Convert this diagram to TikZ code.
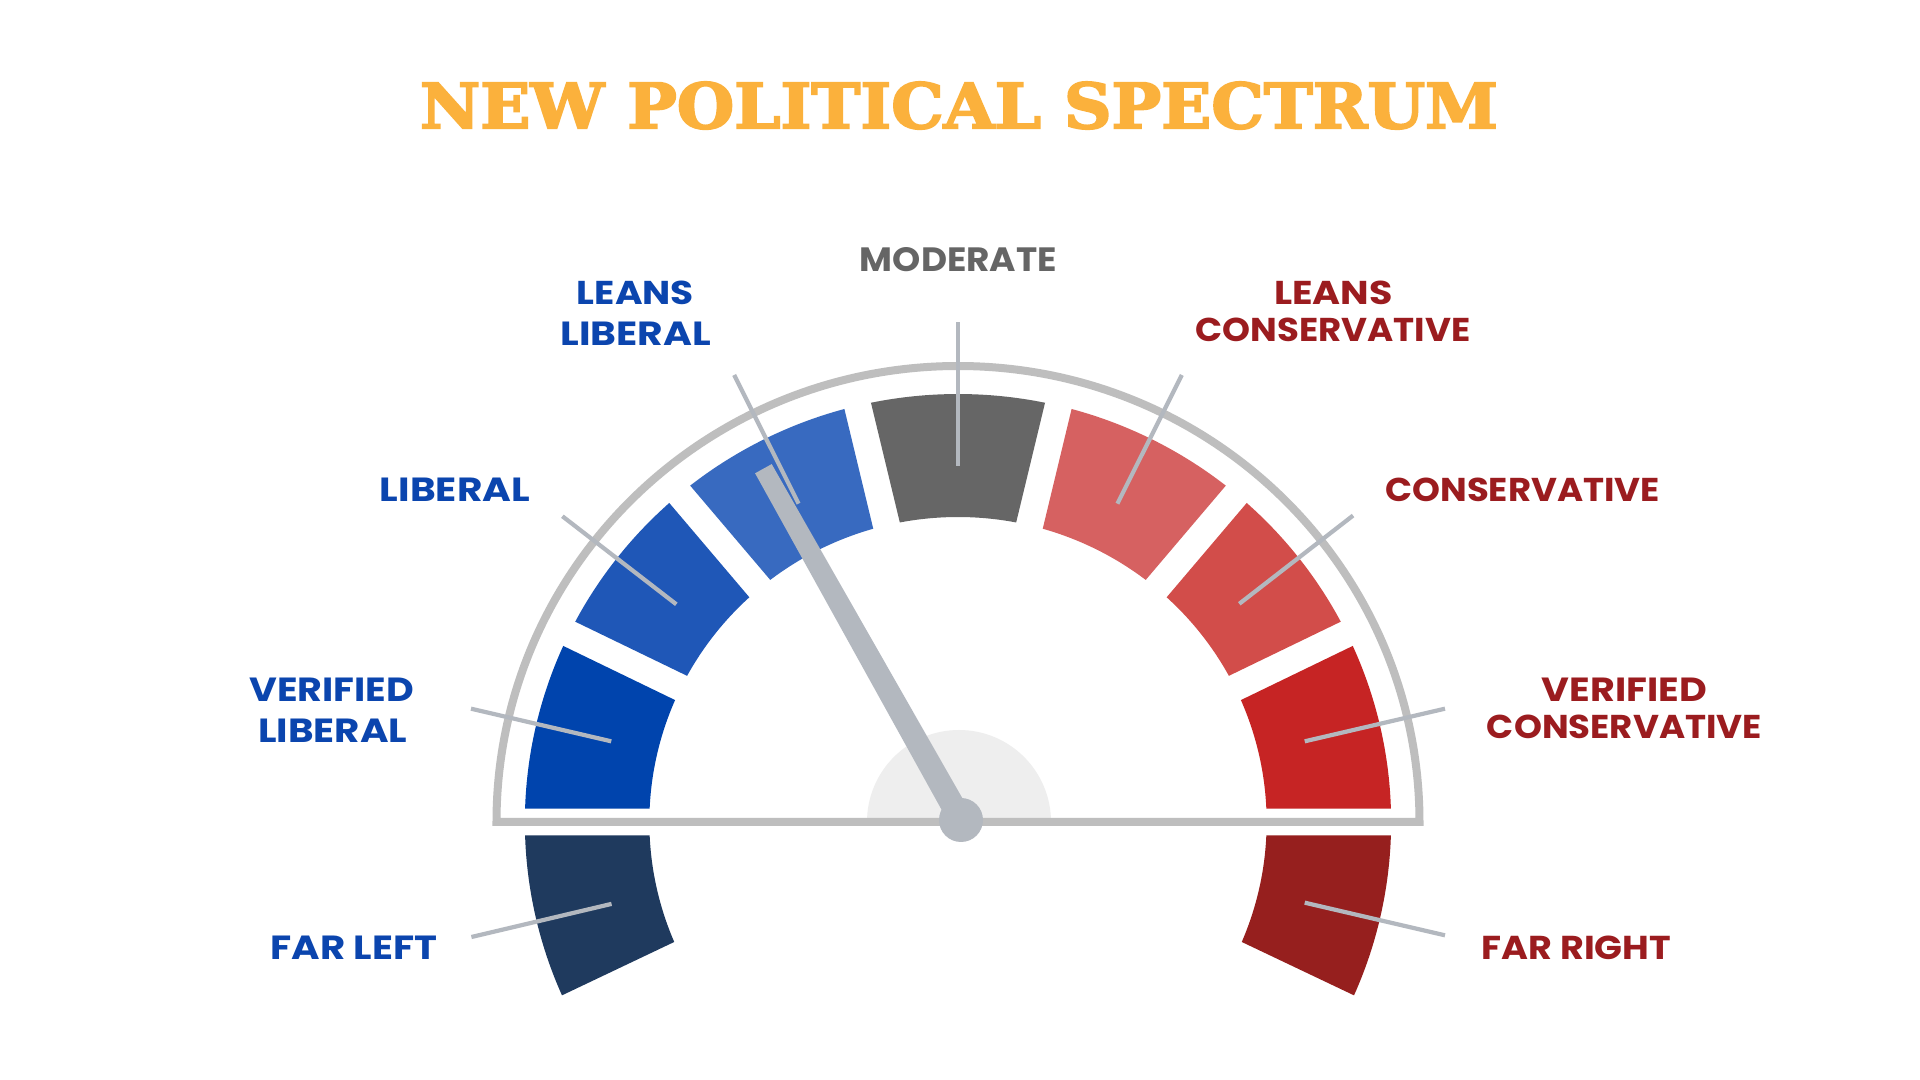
\documentclass[tikz,border=0pt]{standalone}
\usepackage{fontspec}
\usepackage{graphicx}
\newfontfamily\lblfont{Poppins}
\newfontfamily\titlefont{DejaVu Serif}[BoldFeatures={FakeBold=3}]
\definecolor{farleft}{HTML}{1F3A5E}
\definecolor{vlib}{HTML}{0044AD}
\definecolor{lib}{HTML}{1F57B7}
\definecolor{llib}{HTML}{386AC0}
\definecolor{modc}{HTML}{666666}
\definecolor{lcon}{HTML}{D66161}
\definecolor{con}{HTML}{D24D4A}
\definecolor{vcon}{HTML}{C62424}
\definecolor{farright}{HTML}{961F1E}
\definecolor{bluetxt}{HTML}{0B45AE}
\definecolor{redtxt}{HTML}{9B1C1F}
\definecolor{graytxt}{HTML}{656565}
\definecolor{titlecol}{HTML}{FBB13C}
\definecolor{needlecol}{HTML}{B3B8BF}
\definecolor{outlinecol}{HTML}{BEBEBE}
\definecolor{disccol}{HTML}{EEEEEE}
\newcommand\seg[3]{\fill[#1] ({#2+1.807}:428) arc[start angle={#2+1.807}, end angle={#3-1.807}, radius=428] -- ({#3-2.537}:305) arc[start angle={#3-2.537}, end angle={#2+2.537}, radius=305] -- cycle;}
\newcommand\lb[2]{\resizebox{#1pt}{11.75pt}{\lblfont\bfseries #2}}
\tikzset{
  lbl/.style={anchor=base, inner sep=0pt, outer sep=0pt},
  tickline/.style={draw=needlecol, line width=2.1pt},
  outlinestyle/.style={draw=outlinecol, line width=4pt, line join=miter},
}
\begin{document}
\begin{tikzpicture}[x=0.5pt,y=0.5pt]
\fill[white] (-958,-258) rectangle (962,822);
\useasboundingbox (-958,-258) rectangle (962,822);
% title
\node[lbl, text=titlecol] (title) at (1,693.7) {\resizebox{539pt}{23.2pt}{\titlefont\bfseries NEW POLITICAL SPECTRUM}};
% light half disc
\fill[disccol] (93,0) arc[start angle=0, end angle=180, radius=92] -- cycle;
% outline
\draw[outlinestyle] (-461.5,0) arc[start angle=180, end angle=0, x radius=461.5, y radius=456] -- cycle;
% segments
\begin{scope}[xscale=1.012]
\seg{farleft}{180}{205.7}
\seg{vlib}{153.9}{180}
\seg{lib}{130.0}{153.9}
\seg{llib}{103.4}{130.0}
\seg{modc}{76.6}{103.4}
\seg{lcon}{50.0}{76.6}
\seg{con}{26.1}{50.0}
\seg{vcon}{0}{26.1}
\seg{farright}{-25.7}{0}
\end{scope}
% needle
\coordinate (nb1) at (13.5,7.8);
\coordinate (nb2) at (-7.5,-3.8);
\coordinate (nt1) at (-186.3,357.9);
\coordinate (nt2) at (-202.9,348.7);
\fill[needlecol] (nb1) -- (nt1) -- (nt2) -- (nb2) -- cycle;
\node[circle, fill=needlecol, inner sep=0pt, minimum size=22pt] (pivot) at (3,2) {};
% ticks
\foreach \n/\a in {mo/90, ll/116.6, lc/63.4, li/142.3, co/37.8, vl/166.9, vc/13.1, fl/193.3, fr/-13.1} {
  \coordinate (\n-in) at (\a:356);
  \coordinate (\n-out) at (\a:500);
}
\foreach \n in {mo, ll, lc, li, co, vl, vc, fl, fr} {
  \draw[tickline] (\n-in) -- (\n-out);
}
% labels
\node[lbl, text=graytxt] (moderate) at (0.5,550) {\resizebox{98.5pt}{12pt}{\lblfont\bfseries MODERATE}};
\node[lbl, text=bluetxt] (ll1) at (-322.5,517) {\lb{58.5}{LEANS}};
\node[lbl, text=bluetxt] (ll2) at (-322.25,476) {\lb{75.25}{LIBERAL}};
\node[lbl, text=bluetxt] (lib) at (-503,320.3) {\lb{75}{LIBERAL}};
\node[lbl, text=bluetxt] (vl1) at (-626.3,120.3) {\lb{82.35}{VERIFIED}};
\node[lbl, text=bluetxt] (vl2) at (-625.2,79.3) {\lb{74.5}{LIBERAL}};
\node[lbl, text=bluetxt] (fl) at (-604,-137) {\lb{83.3}{FAR LEFT}};
\node[lbl, text=redtxt] (lc1) at (375.25,517) {\lb{59.25}{LEANS}};
\node[lbl, text=redtxt] (lc2) at (375,480.3) {\lb{137.5}{CONSERVATIVE}};
\node[lbl, text=redtxt] (con) at (564.75,320.3) {\lb{137.25}{CONSERVATIVE}};
\node[lbl, text=redtxt] (vc1) at (666.5,120) {\lb{82.5}{VERIFIED}};
\node[lbl, text=redtxt] (vc2) at (666.5,83) {\lb{137.5}{CONSERVATIVE}};
\node[lbl, text=redtxt] (fr) at (618.3,-137) {\lb{94.65}{FAR RIGHT}};
\end{tikzpicture}
\end{document}
